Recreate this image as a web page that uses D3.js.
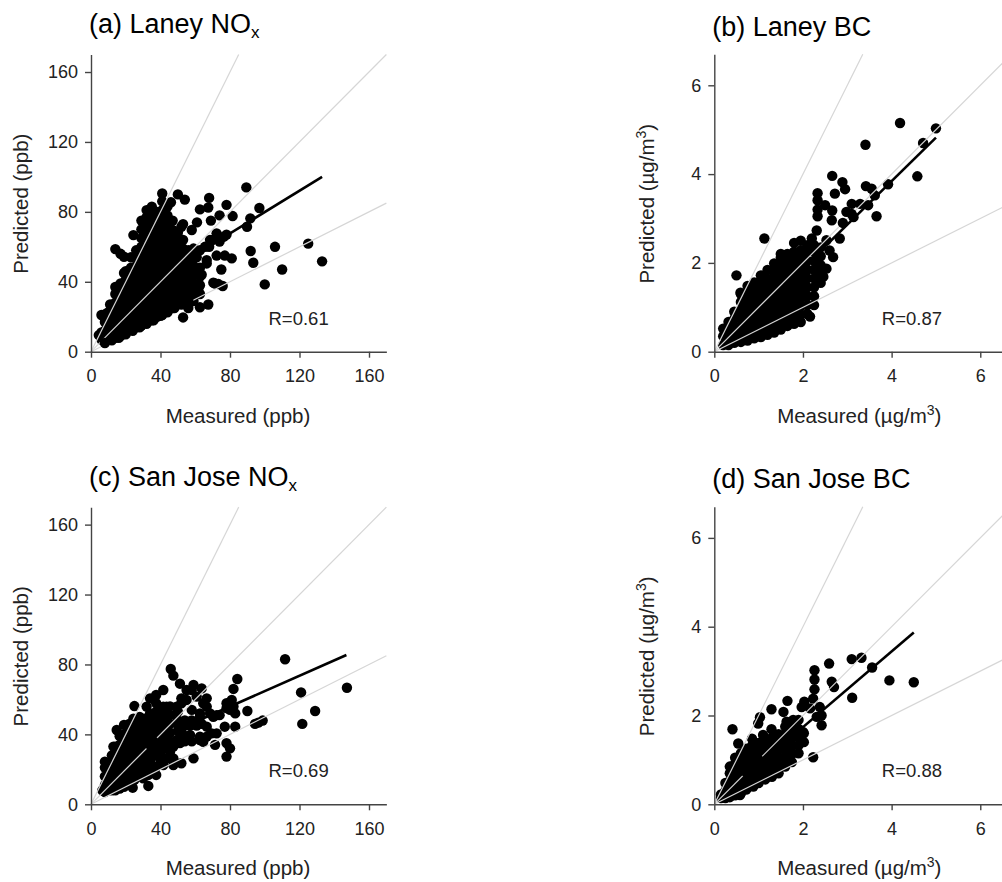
<!DOCTYPE html>
<html>
<head>
<meta charset="utf-8">
<script src="https://cdnjs.cloudflare.com/ajax/libs/d3/7.8.5/d3.min.js"></script>
<style>
html, body { margin: 0; padding: 0; background: #fff; overflow: hidden; }
svg { display: block; }
text { font-family: "Liberation Sans", Arial, sans-serif; fill: #222; }
.tick text { font-size: 18px; }
</style>
</head>
<body>
<svg id="chart" width="1002" height="882"></svg>
<script>
// each row: measured value, then the predicted values read at that measured value
const laneyNox = [
	[4.5, 9.5], [6, 7, 11, 21], [8, 7, 12, 17, 20], [11, 8, 13, 18, 23, 27],
	[14, 8, 13, 18, 23, 28, 33, 37, 58.7], [17, 9, 14, 19, 24, 29, 34, 39, 56], [19, 45, 54.3],
	[20, 11, 16, 21, 26, 31, 36, 41, 46], [23, 13, 18, 23, 28, 33, 38, 43, 48, 54],
	[24.4, 66.7], [26, 14, 19, 24, 29, 34, 39, 44, 49, 54, 58],
	[29, 15, 20, 25, 30, 35, 40, 45, 50, 55, 60, 65, 70, 75],
	[32, 17, 22, 27, 32, 37, 42, 47, 52, 57, 62, 67, 72, 77, 81],
	[35, 18, 23, 28, 33, 38, 43, 48, 53, 58, 63, 68, 73, 78, 83],
	[38, 20, 25, 30, 35, 40, 45, 50, 55, 60, 65, 70, 75, 80],
	[41, 21, 26, 31, 36, 41, 46, 51, 56, 61, 66, 71, 76, 81, 86, 90.5],
	[44, 23, 28, 33, 38, 43, 48, 53, 58, 63, 68, 73, 78, 83],
	[46, 85.5], [47, 25, 30, 35, 40, 45, 50, 55, 60, 65, 69.6, 75],
	[50, 28, 33, 38, 43, 48, 53, 58, 63, 68, 90],
	[52, 71.5], [53, 19.6, 29, 34, 39, 44, 49, 54, 59, 64, 73], [54, 87],
	[56, 25, 30, 35, 40, 45, 50, 55, 58], [58, 69.6], [59, 29, 34, 39, 44, 49, 54, 59],
	[60.8, 54], [61, 74], [61.8, 36], [62.7, 25.4, 33, 38, 43, 48, 58, 81.4], [63.7, 44],
	[65.6, 60], [66.6, 50.5, 52.4], [67.5, 27, 82.5], [68, 60, 88], [68.5, 64], [69, 75],
	[70, 64], [70.4, 39.5], [71.4, 39], [72.3, 55, 67.7], [73.3, 38.7], [74, 63, 78],
	[75, 47], [75.8, 37.6], [76.5, 65.8], [77, 55], [78, 67, 84], [81, 53.4], [81.5, 77.6],
	[89.4, 94], [89.8, 71.5], [91.7, 76.3], [91.9, 57.6], [93.4, 50.9], [96.9, 82.2],
	[100, 38.5], [105.9, 60], [110, 47], [125, 61.8], [133, 51.7]
];
const laneyBc = [
	[0.2, 0.15, 0.35, 0.52], [0.32, 0.15, 0.3, 0.48, 0.67],
	[0.45, 0.2, 0.38, 0.56, 0.74, 0.9], [0.5, 1.72], [0.59, 1.33],
	[0.6, 0.22, 0.4, 0.58, 0.76, 0.94, 1.12, 1.3],
	[0.75, 0.25, 0.43, 0.61, 0.79, 0.97, 1.15, 1.33, 1.48],
	[0.9, 0.3, 0.48, 0.66, 0.84, 1.02, 1.2, 1.38, 1.56],
	[1.05, 0.33, 0.51, 0.69, 0.87, 1.05, 1.23, 1.41, 1.6, 1.72],
	[1.13, 2.55],
	[1.2, 0.38, 0.56, 0.74, 0.92, 1.1, 1.28, 1.46, 1.64, 1.84],
	[1.35, 0.43, 0.61, 0.79, 0.97, 1.15, 1.33, 1.51, 1.69, 1.87, 1.99],
	[1.5, 0.5, 0.68, 0.86, 1.04, 1.22, 1.4, 1.58, 1.76, 1.94, 2.12, 2.2],
	[1.65, 0.58, 0.76, 0.94, 1.12, 1.3, 1.48, 1.66, 1.84, 2.02, 2.2],
	[1.8, 0.63, 0.81, 0.99, 1.17, 1.35, 1.53, 1.71, 1.89, 2.07, 2.25, 2.45],
	[1.95, 0.67, 0.84, 1.02, 1.2, 1.38, 1.56, 1.74, 1.92, 2.1, 2.28, 2.5],
	[2.1, 0.85, 1.05, 1.25, 1.45, 1.65, 1.85, 2.05, 2.25, 2.4], [2.16, 0.79],
	[2.2, 2.55], [2.25, 1.05, 1.25, 1.45, 1.65, 1.85, 2.05, 2.25, 2.4],
	[2.31, 2.73], [2.33, 3.05, 3.2, 3.41, 3.57], [2.4, 1.55, 1.75, 1.95, 2.15, 2.35],
	[2.46, 1.69], [2.5, 3.3], [2.53, 1.87, 2.51], [2.6, 2.28], [2.65, 2.96],
	[2.66, 3.18, 3.96], [2.68, 2.13], [2.72, 3.56], [2.83, 2.55], [2.89, 3.82],
	[2.95, 3.66], [2.98, 3.15], [3.1, 3.33], [3.14, 3.03], [3.29, 3.33],
	[3.41, 4.66], [3.42, 3.73], [3.47, 3.3], [3.55, 3.67], [3.62, 3.52], [3.66, 3.05],
	[3.92, 3.77], [4.19, 5.15], [4.58, 3.95], [4.71, 4.7], [5, 5.03]
];
const sanJoseNox = [
	[6.5, 8], [8, 7, 11, 16, 21, 24.4], [10, 8, 12, 17, 22], [12, 8, 13, 18, 23, 28],
	[12.9, 33], [14, 8, 13, 18, 23, 28, 33], [14.8, 42.5],
	[16.5, 9, 14, 19, 24, 29, 34, 39], [19, 10, 15, 20, 25, 30, 35, 40, 45.4],
	[22, 12, 17, 22, 27, 32, 37, 42, 46], [24, 9.5], [24.4, 49],
	[25, 14, 19, 24, 29, 34, 39, 44, 56.2], [28, 17, 22, 27, 32, 37, 42, 47, 50],
	[30, 14.9], [31, 19, 24, 29, 34, 39, 44, 49], [32, 48, 55.9], [33, 10.5, 16.8],
	[34, 20, 25, 30, 35, 40, 45, 50, 52, 60.6], [37.5, 16.8, 21.5, 28, 33, 38, 43, 48, 53, 57.8, 62.5],
	[40, 25, 30, 35, 40, 45, 50, 55], [41.6, 22.5, 55.9, 65.4], [43.5, 26.3, 32, 37, 42.5, 47, 52, 55.9],
	[45.5, 30, 36, 41, 46, 51, 56], [45.9, 77.4], [47.4, 22.5, 26.3, 33, 73.6],
	[49.3, 36.8, 46.3, 55.9], [50, 42, 48, 53], [51.2, 35, 69], [52, 23.5, 57.8, 60.6],
	[53, 39.7, 44.4], [54, 36, 48], [55, 59.7, 65.4], [57, 39.7, 45], [58, 36, 48, 54, 65.4],
	[59, 26.3, 68.3], [60.8, 45, 61.6], [62.7, 36.8, 38.7, 50, 52], [63.7, 46, 66.3],
	[64.6, 35.8, 57.8], [66.6, 38.7, 44.4, 55.9, 60.6], [68.5, 52], [69.4, 40.6], [70.4, 50],
	[71.4, 34], [72.3, 40.6, 51], [74, 51], [77, 44.4], [78, 27.3, 35, 55, 57.8], [80, 32, 54],
	[81, 59.7], [82, 56, 66], [83, 44.4, 52], [84.2, 71.7],
	[90, 53.4], [94.4, 46], [96.3, 46.7], [98.8, 47.9], [111.7, 83], [120.9, 64],
	[121.6, 46], [129, 53.4], [147.3, 66.7]
];
const sanJoseBc = [
	[0.15, 0.14, 0.22], [0.25, 0.14, 0.3, 0.48], [0.35, 0.16, 0.34, 0.52, 0.7, 0.85],
	[0.41, 1.69], [0.47, 0.2, 0.38, 0.56, 0.74, 0.92, 1.05], [0.54, 1.37], [0.58, 0.21],
	[0.6, 0.25, 0.43, 0.61, 0.79, 0.97, 1.15], [0.72, 0.33, 0.51, 0.69, 0.87, 1.05, 1.25],
	[0.85, 0.42, 0.6, 0.78, 0.96, 1.14, 1.32, 1.48], [0.88, 0.4], [0.99, 1.82],
	[1, 0.48, 0.66, 0.84, 1.02, 1.2, 1.38], [1.03, 1.96], [1.1, 1.56],
	[1.15, 0.56, 0.74, 0.92, 1.1, 1.28, 1.46], [1.29, 1.69, 2.14],
	[1.3, 0.62, 0.8, 0.98, 1.16, 1.34, 1.5], [1.45, 0.7, 0.88, 1.06, 1.24, 1.42, 1.58],
	[1.56, 2.08], [1.6, 0.85, 1.03, 1.21, 1.39, 1.57, 1.75], [1.63, 1.86], [1.65, 2.33],
	[1.75, 0.95, 1.13, 1.31, 1.49, 1.67, 1.85], [1.78, 1.9],
	[1.9, 1.15, 1.33, 1.51, 1.7, 1.9], [1.97, 2.19], [2, 1.63], [2.02, 1.4, 1.6], [2.03, 2.31],
	[2.16, 2.16], [2.23, 1.06, 2.38], [2.26, 2.59, 2.81, 3.02], [2.31, 1.97], [2.38, 2.19],
	[2.42, 1.78, 2], [2.59, 3.17], [2.65, 2.76], [2.7, 2.64], [3.1, 3.27], [3.11, 2.4],
	[3.32, 3.3], [3.56, 3.08], [3.95, 2.79], [4.5, 2.75]
];

// points that sit over the light reference lines in the picture
const laneyNoxTop = [
	[8, 5], [12, 6.5], [16, 8], [20, 10], [24, 12], [28, 14], [32, 16], [36, 18], [40, 20.5], [44, 22.5], [48, 25], [52, 27], [56, 29]
];
const laneyBcTop = [[2.9, 2.9], [3.1, 3.1]];
const sanJoseNoxTop = [[34, 34], [36, 36]];
const sanJoseBcTop = [[0.72, 0.72], [0.87, 0.87], [1, 1]];

// fitted lines, start and end as [measured, predicted]
const laneyNoxFit = [[6, 22.6], [133, 100]];
const laneyBcFit = [[0.2, 0.12], [5, 4.82]];
const sanJoseNoxFit = [[6, 23.4], [147, 85.4]];
const sanJoseBcFit = [[0.15, 0.16], [4.5, 3.87]];

const noxTicks = [0, 40, 80, 120, 160];
const bcTicks = [0, 2, 4, 6];
const refSlopes = [2, 1, 0.5];

const svg = d3.select("#chart");

function flatten(rows) {
	return rows.flatMap(function (r) {
		return r.slice(1).map(function (y) { return [r[0], y]; });
	});
}

function drawPanel(p) {
	var x = d3.scaleLinear().domain([0, p.max]).range([p.left, p.left + p.pxX * p.max]);
	var y = d3.scaleLinear().domain([0, p.max]).range([p.bottom, p.bottom - p.pxY * p.max]);
	var g = svg.append("g");

	function dots(rows) {
		g.append("g")
			.selectAll("circle")
			.data(flatten(rows))
			.enter().append("circle")
			.attr("cx", function (d) { return x(d[0]); })
			.attr("cy", function (d) { return y(d[1]); })
			.attr("r", 5.2)
			.attr("fill", "#000");
	}

	dots(p.rows);

	g.append("line")
		.attr("x1", x(p.fit[0][0])).attr("y1", y(p.fit[0][1]))
		.attr("x2", x(p.fit[1][0])).attr("y2", y(p.fit[1][1]))
		.attr("stroke", "#000")
		.attr("stroke-width", 2.6);

	refSlopes.forEach(function (s) {
		var end = Math.min(p.max, p.max / s);
		g.append("line")
			.attr("x1", x(0)).attr("y1", y(0))
			.attr("x2", x(end)).attr("y2", y(end * s))
			.attr("stroke", "#d6d6d6")
			.attr("stroke-width", 1.2);
	});

	dots(p.top);

	var xAxis = g.append("g")
		.attr("transform", "translate(0," + p.bottom + ")")
		.call(d3.axisBottom(x).tickValues(p.ticks).tickFormat(d3.format("d")).tickSize(6).tickSizeOuter(0).tickPadding(12));
	var yAxis = g.append("g")
		.attr("transform", "translate(" + p.left + ",0)")
		.call(d3.axisLeft(y).tickValues(p.ticks).tickFormat(d3.format("d")).tickSize(6).tickSizeOuter(0).tickPadding(7));
	[xAxis, yAxis].forEach(function (a) {
		a.selectAll("path, line").attr("stroke", "#444").attr("stroke-width", 1.4);
		a.attr("font-family", null).attr("font-size", null);
	});

	var title = g.append("text")
		.attr("x", p.left - 2)
		.attr("y", p.bottom - p.titleGap)
		.style("font-size", "27px")
		.style("fill", "#000")
		.text(p.title);
	if (p.unit == "ppb") {
		title.append("tspan").attr("dy", 5).style("font-size", "17px").text("x");
	}

	var xLabel = g.append("text")
		.attr("x", p.left + p.xTitleGap)
		.attr("y", p.bottom + 71)
		.attr("text-anchor", "middle")
		.style("font-size", "20.5px")
		.text("Measured (" + p.label);
	var yLabel = g.append("text")
		.attr("transform", "translate(" + (p.left - p.yTitleGap) + "," + (p.bottom - 148) + ") rotate(-90)")
		.attr("text-anchor", "middle")
		.style("font-size", "20.5px")
		.text("Predicted (" + p.label);
	[xLabel, yLabel].forEach(function (t) {
		if (p.unit != "ppb") {
			t.append("tspan").attr("dy", -8).style("font-size", "14px").text("3");
			t.append("tspan").attr("dy", 8).text(")");
		} else {
			t.append("tspan").text(")");
		}
	});

	g.append("text")
		.attr("x", p.left + p.rLeft)
		.attr("y", p.bottom - 27)
		.style("font-size", "18.5px")
		.text(p.r);
}

const nox = { max: 170, pxX: 1.7375, pxY: 1.748, ticks: noxTicks, unit: "ppb", label: "ppb", left: 91, rLeft: 177.5, yTitleGap: 63, xTitleGap: 147, titleGap: 318.5 };
const bc = { max: 6.7, pxX: 44.33, pxY: 44.4, ticks: bcTicks, unit: "ug", label: "\u00b5g/m", left: 714.3, rLeft: 167.5, yTitleGap: 60, xTitleGap: 145, titleGap: 316 };

drawPanel(Object.assign({}, nox, { bottom: 351.7, title: "(a) Laney NO", rows: laneyNox, top: laneyNoxTop, fit: laneyNoxFit, r: "R=0.61" }));
drawPanel(Object.assign({}, bc, { bottom: 351.7, title: "(b) Laney BC", rows: laneyBc, top: laneyBcTop, fit: laneyBcFit, r: "R=0.87" }));
drawPanel(Object.assign({}, nox, { bottom: 804.3, title: "(c) San Jose NO", rows: sanJoseNox, top: sanJoseNoxTop, fit: sanJoseNoxFit, r: "R=0.69" }));
drawPanel(Object.assign({}, bc, { bottom: 804.3, title: "(d) San Jose BC", rows: sanJoseBc, top: sanJoseBcTop, fit: sanJoseBcFit, r: "R=0.88" }));
</script>
</body>
</html>
